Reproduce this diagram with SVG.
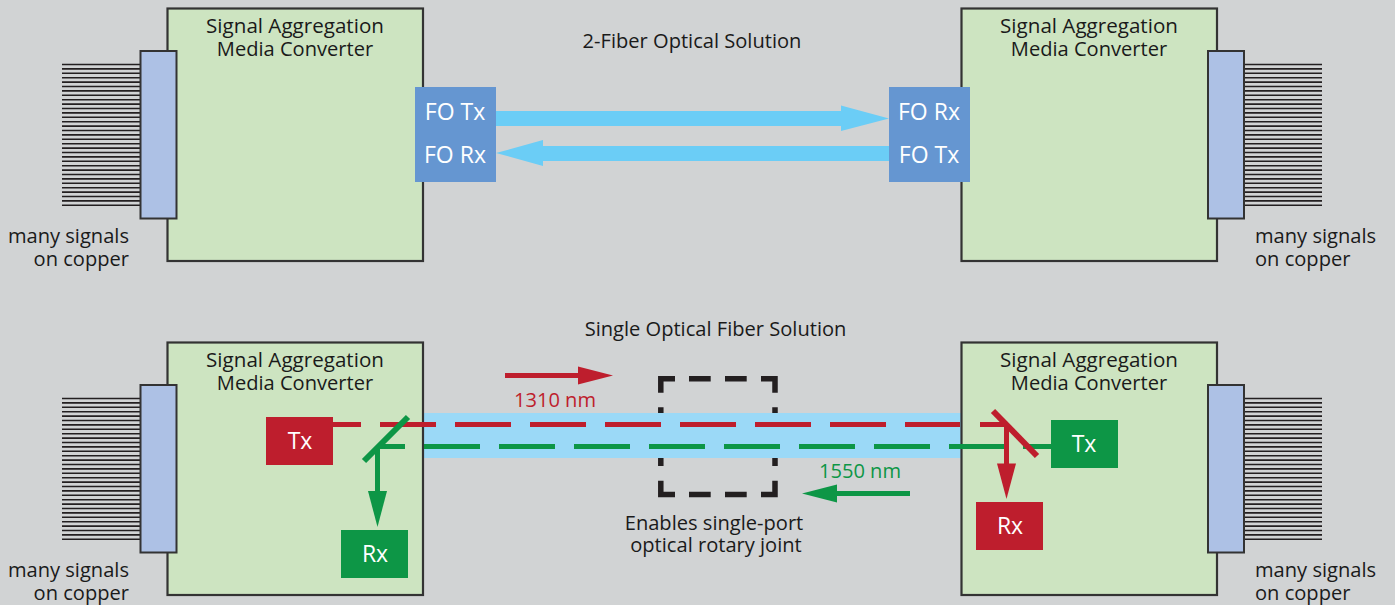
<svg xmlns="http://www.w3.org/2000/svg" xmlns:xlink="http://www.w3.org/1999/xlink" width="1395" height="605" viewBox="0 0 1395 605">
<style>
text{font-family:"Open Sans","Noto Sans","Liberation Sans",sans-serif;font-size:20.1px;fill:#1a1a1a;text-anchor:middle}
.sa{font-size:20.6px}
.box{fill:#cde4c1;stroke:#333;stroke-width:2.2}
.conn{fill:#adc1e5;stroke:#333;stroke-width:2}
.wires{stroke:#231f20;stroke-width:1.6;fill:none}
.fo{fill:#6596d1}
.w{fill:#fff;font-size:23px}
.r{fill:#be1e2d}
.g{fill:#0d9646}
.rs{stroke:#be1e2d;stroke-width:5;fill:none}
.gs{stroke:#0d9646;stroke-width:5;fill:none}
.m{stroke-width:6}
.rd{stroke-dasharray:56 19}
.end{text-anchor:end}
.start{text-anchor:start}
</style>
<defs>
<path id="wl" class="wires" d="M0 0H78M0 4.4H78M0 8.8H78M0 13.2H78M0 17.6H78M0 22H78M0 26.4H78M0 30.8H78M0 35.2H78M0 39.6H78M0 44H78M0 48.4H78M0 52.8H78M0 57.2H78M0 61.6H78M0 66H78M0 70.4H78M0 74.8H78M0 79.2H78M0 83.6H78M0 88H78M0 92.4H78M0 96.8H78M0 101.2H78M0 105.6H78M0 110H78M0 114.4H78M0 118.8H78M0 123.2H78M0 127.6H78M0 132H78M0 136.4H78M0 140.8H78"/>
</defs>
<rect width="1395" height="605" fill="#d1d3d4"/>

<g id="rotary-joint-box"><path fill="none" stroke="#231f20" stroke-width="5.5" d="M660.8 392.7V378.8H675M689 378.8H710.7M725 378.8H746.7M761 378.8H775V392.7M775 407.3V466M775 480.7V494.5H761M746.7 494.5H725M710.7 494.5H689M675 494.5H660.8V480.7M660.8 466V407.3"/></g>
<g id="band-single-fiber"><rect x="423" y="413" width="538" height="45" fill="#9bd9f7"/></g>

<g id="converter-top-left">
<rect class="box" x="167.5" y="8.5" width="255.5" height="252.5"/>
<text x="295" y="33"><tspan class="sa" x="295">Signal Aggregation</tspan><tspan x="295" dy="23">Media Converter</tspan></text>
</g>
<g id="connector-top-left">
<use xlink:href="#wl" href="#wl" x="62" y="64.5"/>
<rect class="conn" x="140.5" y="51" width="36" height="167.5"/>
<text class="end" y="243"><tspan x="129">many signals</tspan><tspan x="129" dy="23">on copper</tspan></text>
</g>
<g id="converter-top-right">
<rect class="box" x="961.5" y="8.5" width="255.5" height="252.5"/>
<text y="33"><tspan class="sa" x="1089">Signal Aggregation</tspan><tspan x="1089" dy="23">Media Converter</tspan></text>
</g>
<g id="connector-top-right">
<use xlink:href="#wl" href="#wl" x="1244" y="64.5"/>
<rect class="conn" x="1208" y="51" width="36" height="167.5"/>
<text class="start" y="243"><tspan x="1255">many signals</tspan><tspan x="1255" dy="23">on copper</tspan></text>
</g>
<g id="fo-left">
<rect class="fo" x="415" y="87" width="81" height="95"/>
<text class="w" y="120"><tspan x="455">FO Tx</tspan><tspan x="455" dy="43">FO Rx</tspan></text>
</g>
<g id="fo-right">
<rect class="fo" x="889" y="87" width="81" height="95"/>
<text class="w" y="120"><tspan x="929">FO Rx</tspan><tspan x="929" dy="43">FO Tx</tspan></text>
</g>
<text x="692" y="48">2-Fiber Optical Solution</text>

<g id="converter-bottom-left">
<rect class="box" x="167.5" y="342.5" width="255.5" height="252.5"/>
<text y="367"><tspan class="sa" x="295">Signal Aggregation</tspan><tspan x="295" dy="23">Media Converter</tspan></text>
</g>
<g id="connector-bottom-left">
<use xlink:href="#wl" href="#wl" x="62" y="398.5"/>
<rect class="conn" x="140.5" y="385" width="36" height="167.5"/>
<text class="end" y="577"><tspan x="129">many signals</tspan><tspan x="129" dy="23">on copper</tspan></text>
</g>
<g id="converter-bottom-right">
<rect class="box" x="961.5" y="342.5" width="255.5" height="252.5"/>
<text y="367"><tspan class="sa" x="1089">Signal Aggregation</tspan><tspan x="1089" dy="23">Media Converter</tspan></text>
</g>
<g id="connector-bottom-right">
<use xlink:href="#wl" href="#wl" x="1244" y="398.5"/>
<rect class="conn" x="1208" y="385" width="36" height="167.5"/>
<text class="start" y="577"><tspan x="1255">many signals</tspan><tspan x="1255" dy="23">on copper</tspan></text>
</g>
<text x="715.5" y="336">Single Optical Fiber Solution</text>

<g id="connectors">
<path fill="#6bcdf6" d="M496 111H841V105.5L889 118.5L841 131V126H496Z"/>
<path fill="#6bcdf6" d="M889 146H543V140L496 153L543 166V161H889Z"/>
<path class="rs" d="M333 424.5H361"/>
<path class="rs rd" d="M380 424.5H960"/>
<path class="rs" d="M980 424.5H1006"/>
<path class="gs" d="M377 446.5H405"/>
<path class="gs rd" d="M424 446.5H1005"/>
<path class="gs" d="M1023 446.5H1051"/>
<path class="gs m" d="M364 461L408 417"/>
<path class="gs" d="M377.5 446V492"/>
<path class="g" d="M368 491H387L377.5 527Z"/>
<path class="rs m" d="M993 411L1037 456"/>
<path class="rs" d="M1006.5 424V464"/>
<path class="r" d="M997 463.5H1016L1006.5 499Z"/>
<path class="rs" d="M505 375.5H580"/>
<path class="r" d="M578 366.5L613 375.5L578 384.5Z"/>
<path class="gs" d="M910 493.5H835"/>
<path class="g" d="M837 484.5L802 493.5L837 502.5Z"/>
</g>

<g id="tx-left"><rect class="r" x="266" y="417" width="67" height="48"/><text class="w" x="300" y="449">Tx</text></g>
<g id="rx-left"><rect class="g" x="341" y="530" width="67" height="48"/><text class="w" x="375" y="562">Rx</text></g>
<g id="tx-right"><rect class="g" x="1051" y="420" width="67" height="48"/><text class="w" x="1084" y="452">Tx</text></g>
<g id="rx-right"><rect class="r" x="976" y="502" width="67" height="48"/><text class="w" x="1010" y="534">Rx</text></g>
<text x="555" y="407" style="fill:#be1e2d">1310 nm</text>
<text x="860" y="478" style="fill:#0d9646">1550 nm</text>
<text y="530"><tspan x="714">Enables single-port</tspan><tspan x="716" dy="22">optical rotary joint</tspan></text>
</svg>
